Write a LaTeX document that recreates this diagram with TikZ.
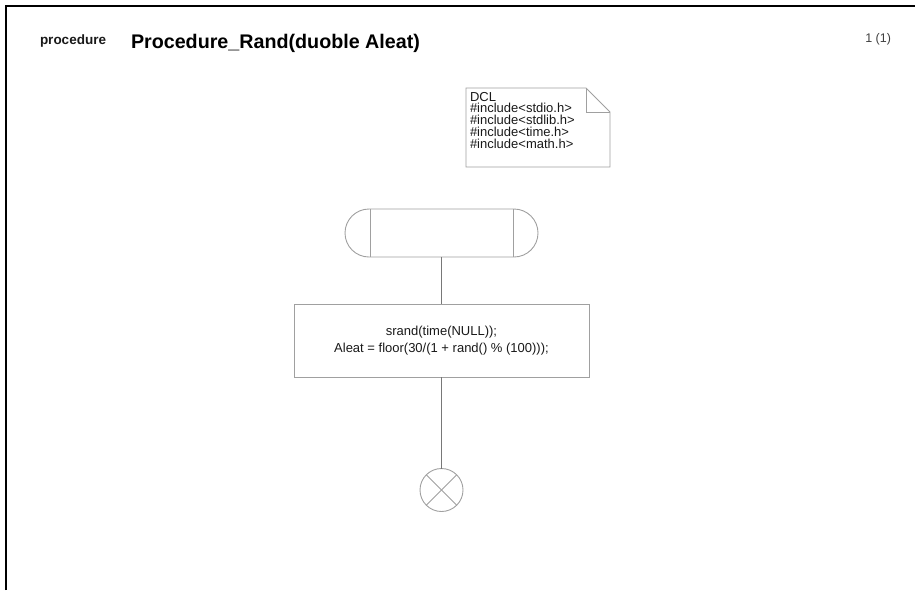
\documentclass[tikz,border=0pt]{standalone}
\usepackage{fontspec}
\setmainfont{Liberation Sans}
\definecolor{sdlgray}{RGB}{160,160,160}
\definecolor{sdlline}{RGB}{120,120,120}
\definecolor{sdltext}{RGB}{25,25,25}
\usetikzlibrary{positioning,calc}

\begin{document}
\begin{tikzpicture}[x=1pt, y=-1pt,
    every node/.style={inner sep=0pt, outer sep=0pt, text=sdltext},
    startbox/.style={draw=sdlgray, line width=0.9pt, rounded corners=24pt,
                     minimum width=193pt, minimum height=48pt},
    taskbox/.style={draw=sdlgray, line width=0.9pt, align=center,
                    minimum width=295pt, minimum height=73pt,
                    font=\fontsize{13}{17}\selectfont},
    stopsym/.style={draw=sdlgray, line width=0.9pt, circle, minimum size=43pt},
    flow/.style={draw=sdlline, line width=0.8pt}]
  \useasboundingbox (0,0) rectangle (915,590);

  % Frame (top and left only)
  \draw[line width=2pt, black] (6,590) -- (6,6) -- (915,6);

  % Header texts
  \node[anchor=base west, font=\fontsize{13.5}{15}\bfseries] (kind) at (40,44.5) {procedure};
  \node[anchor=base west, font=\fontsize{19.7}{22}\bfseries, text=black] (title) at (131,48.5)
    {Procedure\_Rand(duoble Aleat)};
  \node[anchor=base east, font=\fontsize{12.5}{14}\selectfont, text=black!75] (page) at (891,42) {1 (1)};

  % Text symbol (DCL note with folded corner)
  \draw[draw=sdlgray, line width=0.9pt] (466,88) -- (586,88) -- (610,112) -- (610,167)
    -- (466,167) -- cycle;
  \draw[draw=sdlgray, line width=0.9pt] (586,88) -- (586,112) -- (610,112);
  \node[anchor=north west, align=left, font=\fontsize{13}{11.8}\selectfont] (dcl) at (470,92)
    {DCL\\\#include<stdio.h>\\\#include<stdlib.h>\\\#include<time.h>\\\#include<math.h>};

  % Start symbol
  \node[startbox] (start) at (441.5,233) {};
  \draw[draw=sdlgray, line width=0.9pt] ([xshift=25pt]start.north west) -- ([xshift=25pt]start.south west);
  \draw[draw=sdlgray, line width=0.9pt] ([xshift=-25pt]start.north east) -- ([xshift=-25pt]start.south east);

  % Task
  \node[taskbox] (task) at (441.5,340.5)
    {srand(time(NULL));\\Aleat = floor(30/(1 + rand() \% (100)));};

  % Stop symbol
  \node[stopsym] (stop) at (441.5,490) {};
  \draw[draw=sdlgray, line width=0.9pt] (stop.north east) -- (stop.south west);
  \draw[draw=sdlgray, line width=0.9pt] (stop.north west) -- (stop.south east);

  % Flow lines
  \draw[flow] (start.south) -- (task.north);
  \draw[flow] (task.south) -- (stop.north);
\end{tikzpicture}
\end{document}
